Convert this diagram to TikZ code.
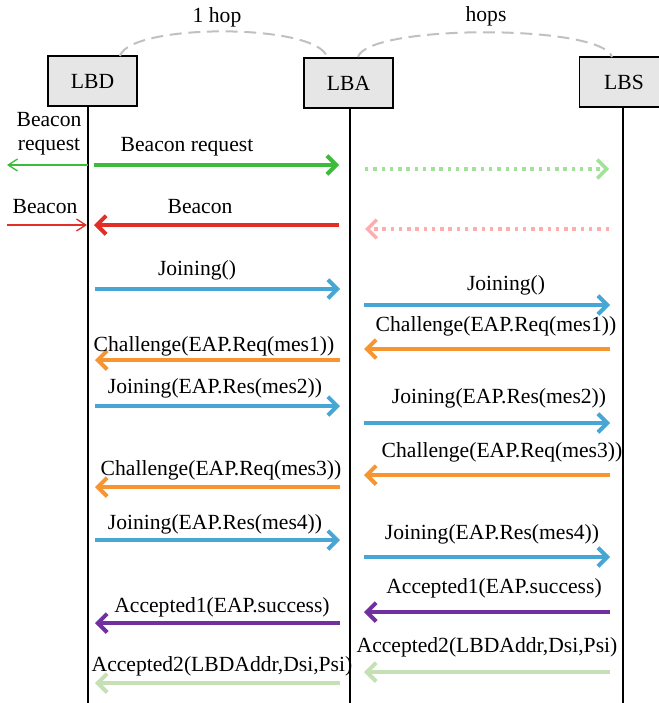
\documentclass[tikz,border=0pt]{standalone}
\usepackage{fontspec}
\setmainfont{Liberation Serif}
\usetikzlibrary{arrows.meta}

\definecolor{cgreen}{RGB}{61,188,60}
\definecolor{cgreenlt}{RGB}{160,226,150}
\definecolor{cred}{RGB}{226,46,38}
\definecolor{cpink}{RGB}{255,172,172}
\definecolor{cblue}{RGB}{72,166,212}
\definecolor{corange}{RGB}{247,150,48}
\definecolor{cpurple}{RGB}{112,48,160}
\definecolor{cpale}{RGB}{197,224,180}
\definecolor{carc}{RGB}{192,192,192}
\definecolor{cbox}{RGB}{230,230,230}

% one message: name, style, x-start, x-end, y, label x, label y, label
\newcommand\msgarrow[8]{%
  \coordinate (#1s) at (#3,#5);
  \coordinate (#1e) at (#4,#5);
  \draw[#2] (#1s) -- (#1e);
  \node[lbl] (#1t) at (#6,#7) {#8};}

\begin{document}
\begin{tikzpicture}[x=0.75pt,y=-0.75pt,
  entity/.style={draw=black,line width=1.1pt,fill=cbox,minimum width=67pt,minimum height=37.5pt,inner sep=0pt,font=\fontsize{16.2}{18}\selectfont},
  lbl/.style={inner sep=0pt,font=\fontsize{16.2}{18}\selectfont},
  lifeline/.style={line width=1.1pt,black},
  hoparc/.style={carc,line width=1.5pt,dash pattern=on 9pt off 5pt},
  thick msg/.style={line width=3pt,-{Straight Barb[length=7pt,width=14pt]}},
  thin msg/.style={line width=1pt,-{Straight Barb[length=7pt,width=9pt]}},
  dotted msg/.style={line width=2.6pt,dash pattern=on 2.6pt off 3.6pt,-{Straight Barb[length=7pt,width=14pt]}},
]
\useasboundingbox (0,0) rectangle (658,703);

% entities
\node[entity] (lbd) at (92.5,81) {LBD};
\node[entity] (lba) at (348.5,83) {LBA};
\node[entity] (lbs) at (624,82) {LBS};

% lifelines
\coordinate (d0) at (88,106);   \coordinate (d1) at (88,703);
\coordinate (a0) at (350,108);  \coordinate (a1) at (350,703);
\coordinate (s0) at (623,107);  \coordinate (s1) at (623,703);
\draw[lifeline] (d0) -- (d1);
\draw[lifeline] (a0) -- (a1);
\draw[lifeline] (s0) -- (s1);

% hop arcs
\coordinate (h1a) at (120,56);  \coordinate (h1b) at (327,57);
\coordinate (h2a) at (358,57);  \coordinate (h2b) at (612,57);
\draw[hoparc] (h1a) .. controls (130,23) and (317,23) .. (h1b);
\draw[hoparc] (h2a) .. controls (368,24) and (602,24) .. (h2b);
\node[lbl] (hop1) at (217,17) {1 hop};
\node[lbl] (hopn) at (486,16) {hops};

% beacon exchange
\msgarrow{bq}{thick msg,cgreen}{94}{339}{165}{187}{147}{Beacon request}
\msgarrow{bqo}{thin msg,cgreen}{88}{7}{165}{49}{134}{\begin{tabular}{@{}c@{}}Beacon\\request\end{tabular}}
\msgarrow{bqr}{dotted msg,cgreenlt}{365}{609}{169}{487}{169}{}
\msgarrow{bc}{thick msg,cred}{339}{94}{225}{200}{207}{Beacon}
\msgarrow{bco}{thin msg,cred}{7}{87}{225}{45}{207}{Beacon}
\msgarrow{bcr}{dotted msg,cpink}{609}{365}{229}{487}{229}{}

% LBD <-> LBA
\msgarrow{j0}{thick msg,cblue}{95}{340}{289}{197}{270}{Joining()}
\msgarrow{c1}{thick msg,corange}{340}{95}{360}{214}{346}{Challenge(EAP.Req(mes1))}
\msgarrow{j2}{thick msg,cblue}{95}{340}{406}{215}{388}{Joining(EAP.Res(mes2))}
\msgarrow{c3}{thick msg,corange}{340}{95}{487}{221}{470}{Challenge(EAP.Req(mes3))}
\msgarrow{j4}{thick msg,cblue}{95}{340}{540}{215}{524}{Joining(EAP.Res(mes4))}
\msgarrow{k1}{thick msg,cpurple}{340}{95}{623}{222}{607}{Accepted1(EAP.success)}
\msgarrow{k2}{thick msg,cpale}{340}{95}{683}{222}{666}{Accepted2(LBDAddr,Dsi,Psi)}

% LBA <-> LBS
\msgarrow{rj0}{thick msg,cblue}{364}{610}{305}{506}{285}{Joining()}
\msgarrow{rc1}{thick msg,corange}{610}{364}{349}{496}{326}{Challenge(EAP.Req(mes1))}
\msgarrow{rj2}{thick msg,cblue}{364}{610}{423}{499}{398}{Joining(EAP.Res(mes2))}
\msgarrow{rc3}{thick msg,corange}{610}{364}{475}{502}{452}{Challenge(EAP.Req(mes3))}
\msgarrow{rj4}{thick msg,cblue}{364}{610}{557}{492}{534}{Joining(EAP.Res(mes4))}
\msgarrow{rk1}{thick msg,cpurple}{610}{364}{612}{494}{588}{Accepted1(EAP.success)}
\msgarrow{rk2}{thick msg,cpale}{610}{364}{672}{487}{647}{Accepted2(LBDAddr,Dsi,Psi)}
\end{tikzpicture}
\end{document}
